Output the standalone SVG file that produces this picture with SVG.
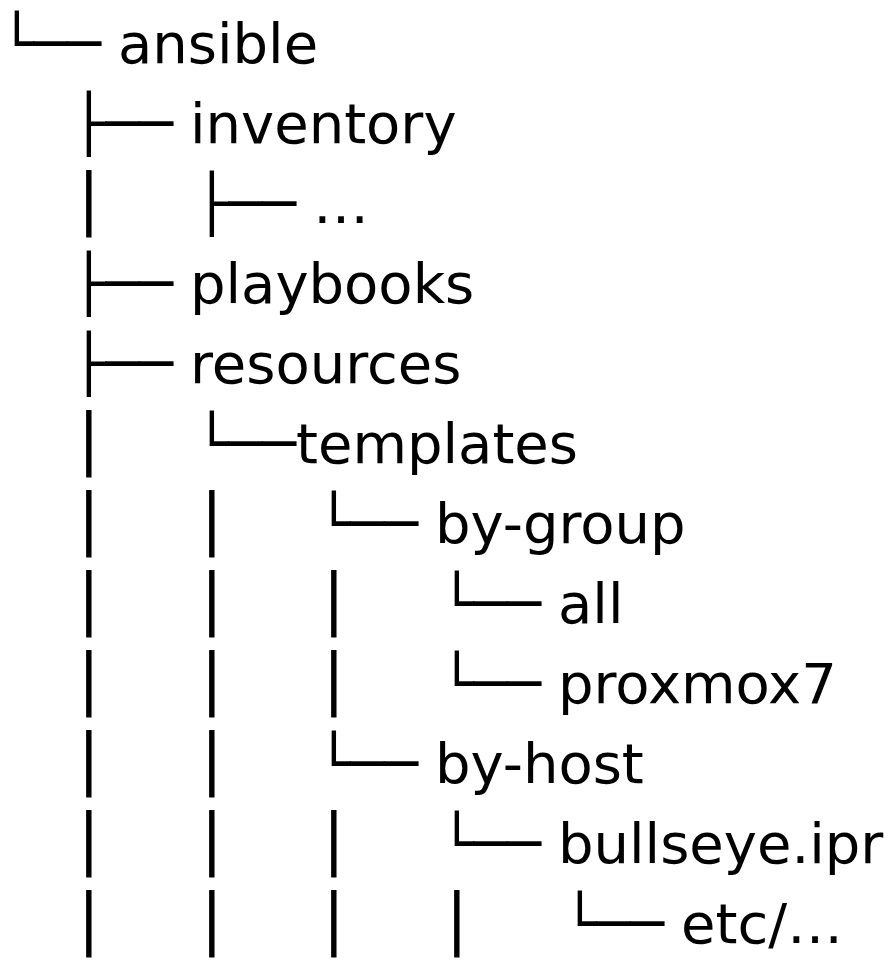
<svg xmlns="http://www.w3.org/2000/svg" width="891" height="960" viewBox="0 0 891 960">
<style>
text{font-family:"DejaVu Sans","Liberation Sans",sans-serif;font-size:56px;fill:#000}
.v{stroke:#000;stroke-width:1px}
</style>
<rect width="891" height="960" fill="#fff"/>
<g id="connectors">
<text x="0" y="63">└──</text>
<text x="72" y="143">├──</text>
<text class="v" x="72" y="223">│</text><text x="195" y="223">├──</text>
<text x="72" y="303">├──</text>
<text x="72" y="383">├──</text>
<text class="v" x="72" y="463">│</text><text x="195" y="463">└──</text>
<text class="v" x="72" y="543">│</text><text class="v" x="195" y="543">│</text><text x="317" y="543">└──</text>
<text class="v" x="72" y="623">│</text><text class="v" x="195" y="623">│</text><text class="v" x="317" y="623">│</text><text x="440" y="623">└──</text>
<text class="v" x="72" y="703">│</text><text class="v" x="195" y="703">│</text><text class="v" x="317" y="703">│</text><text x="440" y="703">└──</text>
<text class="v" x="72" y="783">│</text><text class="v" x="195" y="783">│</text><text x="317" y="783">└──</text>
<text class="v" x="72" y="863">│</text><text class="v" x="195" y="863">│</text><text class="v" x="317" y="863">│</text><text x="440" y="863">└──</text>
<text class="v" x="72" y="943">│</text><text class="v" x="195" y="943">│</text><text class="v" x="317" y="943">│</text><text class="v" x="440" y="943">│</text><text x="563" y="943">└──</text>
</g>
<g id="ansible"><text x="118" y="63">ansible</text></g>
<g id="inventory"><text x="190" y="143">inventory</text></g>
<g id="inventory-more"><text x="313" y="223">…</text></g>
<g id="playbooks"><text x="190" y="303">playbooks</text></g>
<g id="resources"><text x="190" y="383">resources</text></g>
<g id="templates"><text x="296" y="463">templates</text></g>
<g id="by-group"><text x="435" y="543">by-group</text></g>
<g id="all"><text x="558" y="623">all</text></g>
<g id="proxmox7"><text x="558" y="703">proxmox7</text></g>
<g id="by-host"><text x="435" y="783">by-host</text></g>
<g id="bullseye"><text x="558" y="863">bullseye.ipr</text></g>
<g id="etc"><text x="681" y="943">etc/…</text></g>
</svg>
